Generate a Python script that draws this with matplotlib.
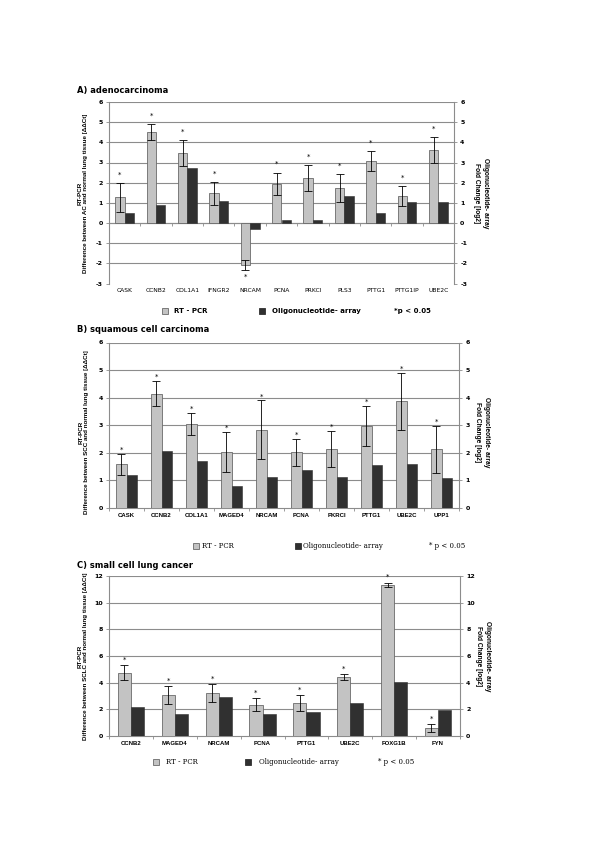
import matplotlib
matplotlib.use('Agg')
import matplotlib.pyplot as plt
from matplotlib.patches import Rectangle
import numpy as np

plt.rcParams['axes.unicode_minus'] = False

# ---- data ----
# A) adenocarcinoma
ac_genes = ['CASK', 'CCNB2', 'COL1A1', 'IFNGR2', 'NRCAM', 'PCNA', 'PRKCI',
            'PLS3', 'PTTG1', 'PTTG1IP', 'UBE2C']
ac_rtpcr = [1.28, 4.5, 3.47, 1.47, -2.1, 1.95, 2.24, 1.75, 3.08, 1.33, 3.63]
ac_rtpcr_err = [0.72, 0.4, 0.63, 0.58, 0.25, 0.55, 0.63, 0.7, 0.5, 0.5, 0.65]
ac_array = [0.5, 0.87, 2.72, 1.07, -0.32, 0.17, 0.17, 1.35, 0.5, 1.03, 1.03]
ac_yticks = [-3, -2, -1, 0, 1, 2, 3, 4, 5, 6]

# B) squamous cell carcinoma
scc_genes = ['CASK', 'CCNB2', 'COL1A1', 'MAGED4', 'NRCAM', 'PCNA', 'PKRCI',
             'PTTG1', 'UBE2C', 'UPP1']
scc_rtpcr = [1.58, 4.15, 3.05, 2.03, 2.83, 2.02, 2.14, 2.97, 3.87, 2.13]
scc_rtpcr_err = [0.38, 0.44, 0.4, 0.72, 1.07, 0.48, 0.64, 0.72, 1.03, 0.86]
scc_array = [1.2, 2.08, 1.71, 0.79, 1.13, 1.37, 1.13, 1.56, 1.6, 1.07]
scc_yticks = [0, 1, 2, 3, 4, 5, 6]

# C) small cell lung cancer
sclc_genes = ['CCNB2', 'MAGED4', 'NRCAM', 'PCNA', 'PTTG1', 'UBE2C', 'FOXG1B', 'FYN']
sclc_rtpcr = [4.75, 3.08, 3.22, 2.35, 2.47, 4.42, 11.33, 0.6]
sclc_rtpcr_err = [0.57, 0.65, 0.68, 0.48, 0.58, 0.22, 0.17, 0.3]
sclc_array = [2.2, 1.62, 2.9, 1.65, 1.82, 2.44, 4.07, 1.97]
sclc_yticks = [0, 2, 4, 6, 8, 10, 12]

light = '#c3c3c3'
edge = '#6a6a6a'
dark = '#303030'
grid = '#8c8c8c'
narrow = ['Liberation Sans Narrow', 'Liberation Sans', 'DejaVu Sans']

W, H = 600, 850
fig = plt.figure(figsize=(6, 8.5), dpi=100)


def rect_px(left, top, right, bottom):
    return [left / W, 1 - bottom / H, (right - left) / W, (bottom - top) / H]


def panel(rect, genes, rt, rt_err, arr, yticks, star_pt, tick_font, tick_weight,
          zero_inside):
    ax = fig.add_axes(rect)
    x = np.arange(len(genes))
    w = 0.3
    ax.bar(x - w / 2, rt, w, color=light, edgecolor=edge, linewidth=0.6, zorder=3)
    ax.errorbar(x - w / 2, rt, yerr=rt_err, fmt='none', ecolor='black',
                elinewidth=0.6, capsize=3, capthick=0.6, zorder=4)
    ax.bar(x + w / 2, arr, w, color=dark, edgecolor=dark, linewidth=0.4, zorder=3)

    # significance stars
    for xi, v, e in zip(x - w / 2, rt, rt_err):
        if v >= 0:
            ax.annotate('*', (xi, v + e), xytext=(0, star_pt), textcoords='offset points',
                        ha='center', va='center', fontsize=5)
        else:
            ax.annotate('*', (xi, v - e), xytext=(0, -star_pt * 0.8),
                        textcoords='offset points', ha='center', va='center', fontsize=5)

    ax.set_xlim(-0.5, len(genes) - 0.5)
    ax.set_ylim(yticks[0], yticks[-1])
    ax.set_yticks(yticks)
    ax.yaxis.grid(True, color=grid, linewidth=0.8)
    ax.set_axisbelow(True)
    ax.get_ygridlines()[0].set_visible(False)

    for s in ['left', 'right']:
        ax.spines[s].set_color(grid)
        ax.spines[s].set_linewidth(0.8)
    ax.spines['top'].set_visible(False)

    ax.set_xticks(x, genes)
    ax.tick_params(axis='x', which='major', length=0, pad=3.5, labelsize=4.3)
    for t in ax.get_xticklabels():
        t.set_family(tick_font)
        t.set_fontweight(tick_weight)

    bounds = np.arange(len(genes) + 1) - 0.5
    if zero_inside:
        ax.spines['bottom'].set_visible(False)
        frac = (0 - yticks[0]) / (yticks[-1] - yticks[0])
        sec = ax.secondary_xaxis(frac)
        sec.set_xticks(bounds)
        sec.tick_params(axis='x', length=2.5, width=0.6, color=grid, labelbottom=False)
        sec.spines['bottom'].set_color(grid)
        sec.spines['bottom'].set_linewidth(0.8)
    else:
        ax.spines['bottom'].set_color(grid)
        ax.spines['bottom'].set_linewidth(0.8)
        ax.set_xticks(bounds, minor=True)
        ax.tick_params(axis='x', which='minor', length=2.5, width=0.6, color=grid)

    ax.tick_params(axis='y', length=2, width=0.6, color=grid, pad=2.5, labelsize=4.5)
    for t in ax.get_yticklabels():
        t.set_fontweight('bold')

    ax2 = ax.twinx()
    ax2.set_ylim(yticks[0], yticks[-1])
    ax2.set_yticks(yticks)
    ax2.tick_params(axis='y', length=2, width=0.6, color=grid, pad=2.5, labelsize=4.5)
    for t in ax2.get_yticklabels():
        t.set_fontweight('bold')
    for s in ax2.spines.values():
        s.set_visible(False)
    return ax


def legend(y, rt_x, rt_tx, ol_x, ol_tx, p_x, p_text, font, weight):
    sq = 6
    fig.add_artist(Rectangle((rt_x / W, 1 - (y + sq / 2) / H), sq / W, sq / H,
                             transform=fig.transFigure, facecolor=light,
                             edgecolor=edge, linewidth=0.6))
    fig.add_artist(Rectangle((ol_x / W, 1 - (y + sq / 2) / H), sq / W, sq / H,
                             transform=fig.transFigure, facecolor=dark,
                             edgecolor=dark, linewidth=0.6))
    fig.text(rt_tx / W, 1 - y / H, 'RT - PCR', fontsize=5, family=font,
             fontweight=weight, va='center')
    fig.text(ol_tx / W, 1 - y / H, 'Oligonucleotide- array', fontsize=5, family=font,
             fontweight=weight, va='center')
    fig.text(p_x / W, 1 - y / H, p_text, fontsize=5, family=font,
             fontweight=weight, va='center')


def ylabels(left_x, right_x, yc, group):
    fig.text(left_x / W, 1 - yc / H,
             'RT-PCR\nDifference between ' + group + ' and normal lung tissue [\u0394\u0394Ct]',
             rotation=90, ha='center', va='center', fontsize=4.5, family=narrow,
             fontweight='bold', linespacing=1.2, multialignment='center')
    fig.text(right_x / W, 1 - yc / H, 'Oligonucleotide- array\nFold Change [log2]',
             rotation=270, ha='center', va='center', fontsize=4.8, family=narrow,
             fontweight='bold', linespacing=1.5, multialignment='center')


# ---- A) adenocarcinoma ----
fig.text(77 / W, 1 - 91 / H, 'A) adenocarcinoma', fontsize=6, fontweight='bold',
         va='center')
panel(rect_px(109, 102, 454, 283.5), ac_genes, ac_rtpcr, ac_rtpcr_err, ac_array,
      ac_yticks, 6, 'DejaVu Sans', 'normal', True)
ylabels(83, 481, 193, 'AC')
legend(311, 161.5, 174, 259, 271.5, 394, '*p < 0.05', 'DejaVu Sans', 'bold')

# ---- B) squamous cell carcinoma ----
fig.text(77 / W, 1 - 329 / H, 'B) squamous cell carcinoma', fontsize=6,
         fontweight='bold', va='center')
panel(rect_px(109, 342.5, 459, 508), scc_genes, scc_rtpcr, scc_rtpcr_err, scc_array,
      scc_yticks, 3, 'Liberation Sans', 'bold', False)
ylabels(84, 482, 432, 'SCC')
legend(546, 192.5, 202, 294.5, 303, 429, '* p < 0.05', 'DejaVu Serif', 'normal')

# ---- C) small cell lung cancer ----
fig.text(77 / W, 1 - 566 / H, 'C) small cell lung cancer', fontsize=6,
         fontweight='bold', va='center')
panel(rect_px(109, 576, 460, 736), sclc_genes, sclc_rtpcr, sclc_rtpcr_err, sclc_array,
      sclc_yticks, 4, 'Liberation Sans', 'bold', False)
ylabels(83, 483, 656, 'SCLC')
legend(762, 152.5, 165.5, 245, 259, 378, '* p < 0.05', 'DejaVu Serif', 'normal')

fig.savefig('out.png', dpi=100)
